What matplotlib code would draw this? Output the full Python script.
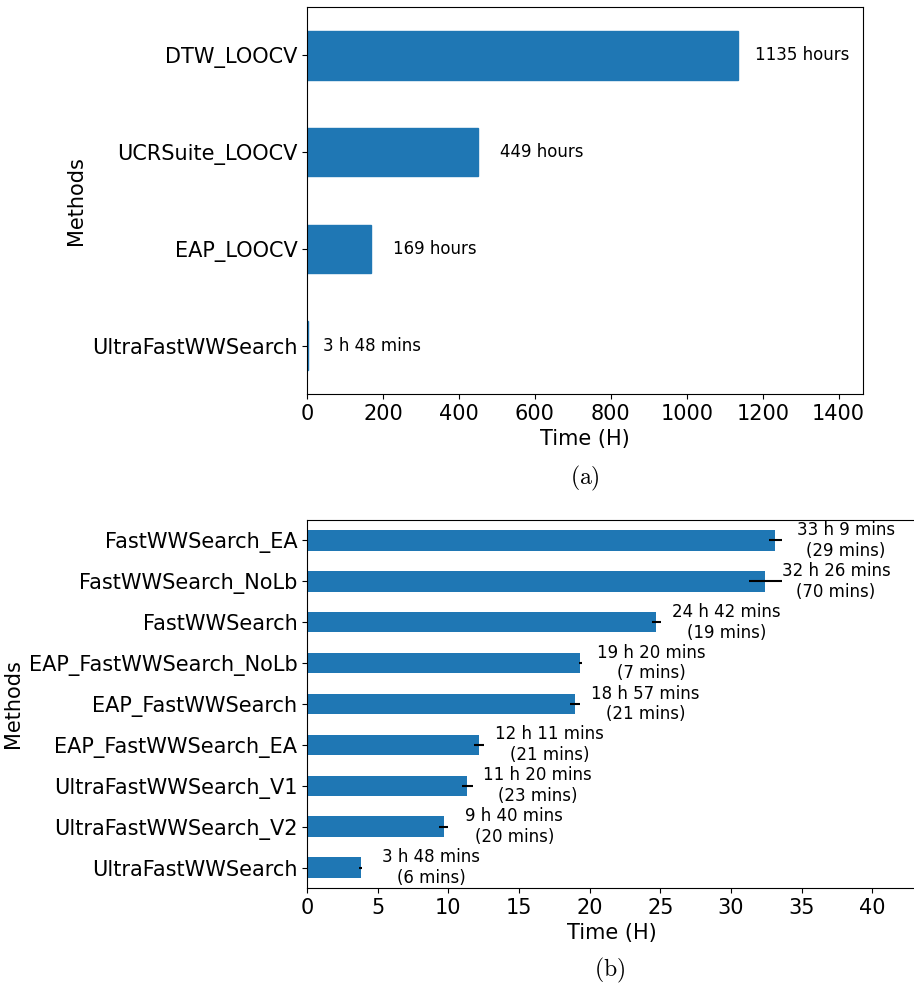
import numpy as np
import matplotlib.pyplot as plt

plt.rcParams['mathtext.fontset'] = 'cm'

# (a) LOOCV baselines vs UltraFastWWSearch, total hours
methods_a = ['UltraFastWWSearch', 'EAP_LOOCV', 'UCRSuite_LOOCV', 'DTW_LOOCV']
hours_a = [3.8, 169, 449, 1135]
labels_a = ['3 h 48 mins', '169 hours', '449 hours', '1135 hours']

# (b) search variants, mean hours and std in minutes
methods_b = ['UltraFastWWSearch', 'UltraFastWWSearch_V2', 'UltraFastWWSearch_V1',
             'EAP_FastWWSearch_EA', 'EAP_FastWWSearch', 'EAP_FastWWSearch_NoLb',
             'FastWWSearch', 'FastWWSearch_NoLb', 'FastWWSearch_EA']
hours_b = [3 + 48/60, 9 + 40/60, 11 + 20/60, 12 + 11/60, 18 + 57/60,
           19 + 20/60, 24 + 42/60, 32 + 26/60, 33 + 9/60]
std_mins_b = [6, 20, 23, 21, 21, 7, 19, 70, 29]
labels_b = ['3 h 48 mins', '9 h 40 mins', '11 h 20 mins', '12 h 11 mins',
            '18 h 57 mins', '19 h 20 mins', '24 h 42 mins', '32 h 26 mins',
            '33 h 9 mins']

color = '#1f77b4'
fig = plt.figure(figsize=(9.14, 9.84), dpi=100)

ax1 = fig.add_axes([0.3359, 0.5996, 0.6083, 0.3933])
y = np.arange(len(methods_a))
# thin edge so the 3.8 h bar still shows next to the spine
ax1.barh(y, hours_a, height=0.5, color=color, edgecolor=color, linewidth=1.0)
ax1.set_yticks(y)
ax1.set_yticklabels(methods_a, fontsize=15)
ax1.set_ylim(-0.5, len(methods_a) - 0.5)
ax1.set_xlim(0, 1.29 * max(hours_a))
ax1.tick_params(axis='x', labelsize=15)
for i in range(len(y)):
    ax1.text(hours_a[i] + 168, y[i], labels_a[i], ha='center', va='center', fontsize=12)
ax1.set_xlabel('Time (H)', fontsize=15)
ax1.set_ylabel('Methods', fontsize=15)
fig.text(0.64, 1 - 478/984, r'$\mathrm{(a)}$', ha='center', va='center', fontsize=17)

ax2 = fig.add_axes([0.3359, 0.0976, 0.6663, 0.374])
y = np.arange(len(methods_b))
ax2.barh(y, hours_b, height=0.5, color=color)
ax2.errorbar(hours_b, y, xerr=np.array(std_mins_b) / 60, fmt='none', ecolor='black', elinewidth=1.5)
ax2.set_yticks(y)
ax2.set_yticklabels(methods_b, fontsize=15)
ax2.set_ylim(-0.5, len(methods_b) - 0.5)
ax2.set_xlim(0, 1.3 * max(hours_b))
ax2.tick_params(axis='x', labelsize=15)
for i in range(len(y)):
    ax2.text(hours_b[i] + 5, y[i], labels_b[i] + '\n(' + str(std_mins_b[i]) + ' mins)',
             ha='center', va='center', fontsize=12)
ax2.set_xlabel('Time (H)', fontsize=15)
ax2.set_ylabel('Methods', fontsize=15)
fig.text(0.667, 1 - 970/984, r'$\mathrm{(b)}$', ha='center', va='center', fontsize=17)

fig.savefig('out.png', dpi=100)
